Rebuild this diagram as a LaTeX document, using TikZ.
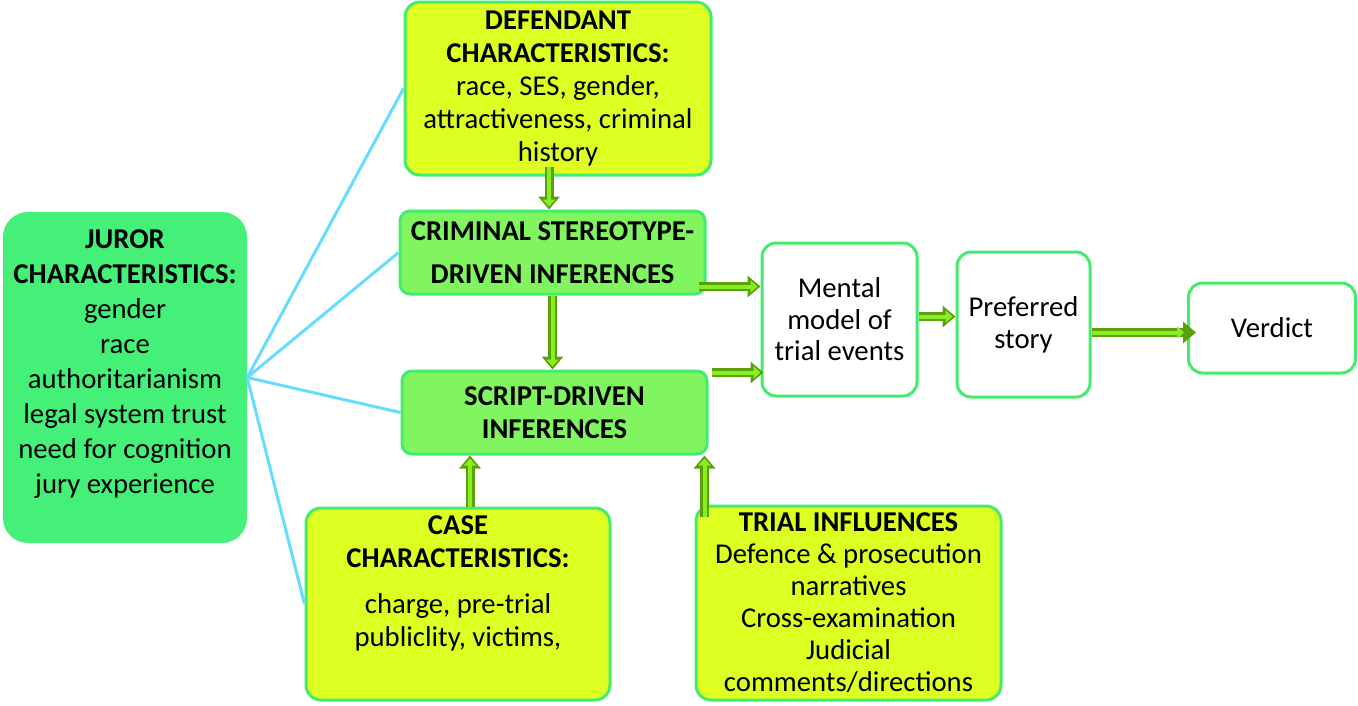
\documentclass[tikz,border=0pt]{standalone}
\usepackage{fontspec}
\setmainfont{Carlito}
\usetikzlibrary{arrows.meta}
\begin{document}
\begin{tikzpicture}[x=1pt, y=-1pt]
% Juror model flow chart, positions in pixels
\providecommand{\flowJurorFill}{rgb,255:red,68;green,240;blue,120}
\providecommand{\flowYellowFill}{rgb,255:red,221;green,255;blue,34}
\providecommand{\flowInferFill}{rgb,255:red,128;green,245;blue,96}
\providecommand{\flowBorderColor}{rgb,255:red,68;green,236;blue,110}
\providecommand{\flowLinkColor}{rgb,255:red,102;green,221;blue,255}
\providecommand{\flowArrowDark}{rgb,255:red,90;green,160;blue,10}
\providecommand{\flowArrowLight}{rgb,255:red,136;green,238;blue,34}
\providecommand{\flowBorderWidth}{3pt}
\providecommand{\flowFontSize}{28.7}
\useasboundingbox (0,0) rectangle (1358,705);
\begin{scope}[line join=round,
    box/.style={rectangle, draw=\flowBorderColor, line width=\flowBorderWidth, inner sep=0pt,
      align=center, font=\fontsize{\flowFontSize}{33}\selectfont},
    yellowbox/.style={box, fill=\flowYellowFill, rounded corners=15pt},
    inferbox/.style={box, fill=\flowInferFill, rounded corners=10pt},
    whitebox/.style={box, fill=white, rounded corners=14pt},
    boxtext/.style={inner sep=0pt, align=center, font=\fontsize{\flowFontSize}{33}\selectfont},
    link/.style={draw=\flowLinkColor, line width=3pt},
    flow/.style={draw=\flowArrowDark, line width=9pt, -{Triangle[length=13pt,width=21pt]},
      postaction={draw=\flowArrowLight, line width=4pt, shorten >=3pt,
        -{Triangle[length=7pt,width=12pt]}}}]
  % Boxes
  \node[rectangle, fill=\flowJurorFill, rounded corners=25pt, minimum width=244pt, minimum height=331pt]
    (juror) at (125,377.5) {};
  \node[boxtext, font=\fontsize{\flowFontSize}{35}\selectfont] (jurortext) at (125,364)
    {\textbf{JUROR}\\\textbf{CHARACTERISTICS:}\\gender\\race\\authoritarianism\\legal system trust\\need for cognition\\jury experience};
  \node[yellowbox, minimum width=306pt, minimum height=173pt] (defendant) at (558,88.5)
    {\textbf{DEFENDANT}\\\textbf{CHARACTERISTICS:}\\race, SES, gender,\\attractiveness, criminal\\history};
  \node[inferbox, minimum width=305pt, minimum height=83pt] (criminal) at (552.5,252.5)
    {\textbf{CRIMINAL STEREOTYPE-}\\[10pt]\textbf{DRIVEN INFERENCES}};
  \node[inferbox, minimum width=305pt, minimum height=83pt] (script) at (554.5,412.5)
    {\textbf{SCRIPT-DRIVEN}\\\textbf{INFERENCES}};
  \node[yellowbox, minimum width=304pt, minimum height=192pt] (case) at (458,604) {};
  \node[boxtext] (casetext) at (458,583)
    {\textbf{CASE}\\\textbf{CHARACTERISTICS:}\\[13pt]charge, pre-trial\\publiclity, victims,};
  \node[yellowbox, minimum width=305pt, minimum height=194pt, font=\fontsize{\flowFontSize}{32}\selectfont]
    (trial) at (848.5,603)
    {\textbf{TRIAL INFLUENCES}\\Defence \& prosecution\\narratives\\Cross-examination\\Judicial\\comments/directions};
  \node[whitebox, minimum width=155pt, minimum height=153pt, font=\fontsize{\flowFontSize}{31.5}\selectfont]
    (mental) at (839.5,319.5) {Mental\\model of\\trial events};
  \node[whitebox, minimum width=133pt, minimum height=145pt, font=\fontsize{\flowFontSize}{32}\selectfont]
    (preferred) at (1023.5,324.5) {Preferred\\story};
  \node[whitebox, minimum width=167pt, minimum height=90pt] (verdict) at (1272,328) {Verdict};
  % Juror links
  \draw[link] (defendant.west) -- (juror.east) -- (criminal.west);
  \draw[link] (script.west) -- (juror.east) -- (case.west);
  % Arrow tails
  \coordinate (deftail) at ([shift={(-9,-10)}]defendant.south);
  \coordinate (crimtail) at ([shift={(-8,-9)}]criminal.south east);
  \coordinate (scripttail) at ([shift={(3,-40)}]script.east);
  \coordinate (casetail) at ([xshift=12]case.north);
  \coordinate (trialtail) at ([shift={(10,12)}]trial.north west);
  \coordinate (mentaltail) at ([yshift=3]mental.east);
  \coordinate (preftail) at ([yshift=-8]preferred.east);
  % Flow arrows
  \draw[flow] (deftail) -- (deftail |- criminal.north);
  \draw[flow] (criminal.south) -- (criminal.south |- script.north);
  \draw[flow] (crimtail) -- (crimtail -| mental.west);
  \draw[flow] (scripttail) -- ([xshift=3]scripttail -| mental.west);
  \draw[flow] (casetail) -- (casetail |- script.south);
  \draw[flow] (trialtail) -- (trialtail |- script.south);
  \draw[flow] (mentaltail) -- (mentaltail -| preferred.west);
  \draw[flow, shorten >=-9pt] (preftail) -- (preftail -| verdict.west);
\end{scope}
\end{tikzpicture}
\end{document}
